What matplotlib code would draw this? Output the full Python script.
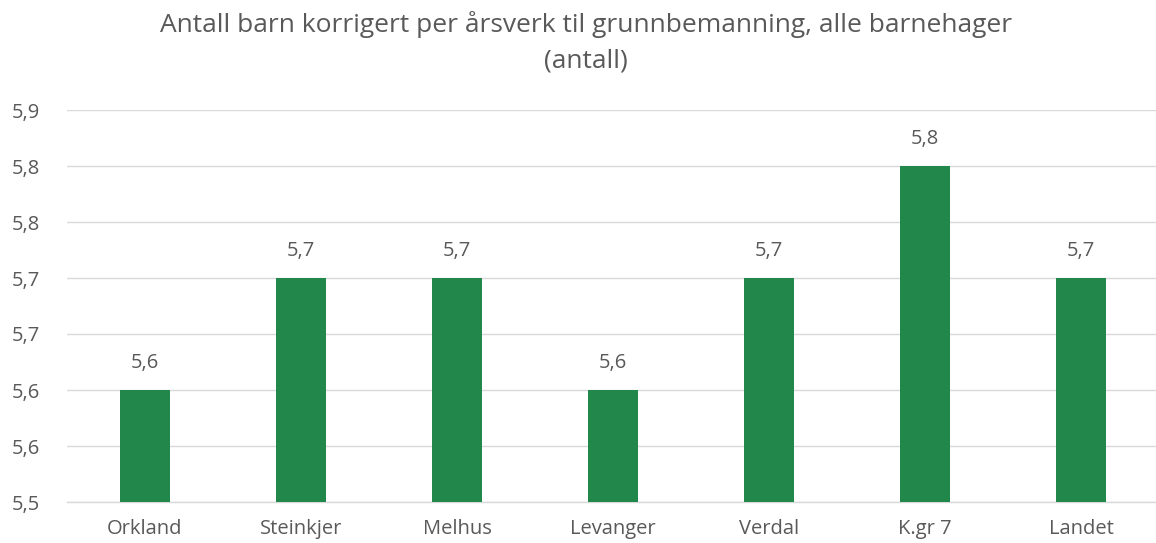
import matplotlib
matplotlib.use("Agg")
import matplotlib.pyplot as plt

categories = ["Orkland", "Steinkjer", "Melhus", "Levanger", "Verdal", "K.gr 7", "Landet"]
values = [5.60, 5.70, 5.70, 5.60, 5.70, 5.80, 5.70]
value_labels = ["5,6", "5,7", "5,7", "5,6", "5,7", "5,8", "5,7"]
yticks = [5.50, 5.55, 5.60, 5.65, 5.70, 5.75, 5.80, 5.85]
ytick_labels = ["5,5", "5,6", "5,6", "5,7", "5,7", "5,8", "5,8", "5,9"]
title = "Antall barn korrigert per årsverk til grunnbemanning, alle barnehager\n(antall)"

W, H = 1156, 543
fig = plt.figure(figsize=(W / 100, H / 100), dpi=100)
plt.rcParams['font.family'] = ['Open Sans', 'DejaVu Sans']
txt = "#595959"
grid = "#D9D9D9"
bar_color = "#22874A"

left = 67
ax = fig.add_axes([left / W, 1 - 502 / H, (W - left) / W, (502 - 110) / H])
x = list(range(len(categories)))
ax.bar(x, values, width=50 / 156, color=bar_color, zorder=3)
ax.set_xlim(-0.5, -0.5 + (W - left) / 156)
ax.set_ylim(5.50, 5.85)
ax.set_yticks(yticks)
ax.set_yticklabels(ytick_labels)
ax.set_xticks(x)
ax.set_xticklabels(categories)
for s in ["top", "right", "left"]:
    ax.spines[s].set_visible(False)
ax.spines["bottom"].set_color(grid)
ax.spines["bottom"].set_linewidth(1)
ax.yaxis.grid(True, color=grid, linewidth=1, zorder=0)
ax.tick_params(axis="both", length=0, labelsize=14.5, colors=txt)
ax.tick_params(axis="y", pad=40)
ax.tick_params(axis="x", pad=12)
for xi, v, lab in zip(x, values, value_labels):
    ax.annotate(lab, (xi, v), xytext=(0, 12), textcoords="offset points",
                ha="center", va="bottom", fontsize=14.5, color=txt)
for lab in ax.get_yticklabels():
    lab.set_horizontalalignment("left")
fig.text(586 / W, 1 - 42 / H, title, ha="center", va="center", fontsize=19,
         color=txt, linespacing=1.55)
fig.savefig("out.png", dpi=100)
